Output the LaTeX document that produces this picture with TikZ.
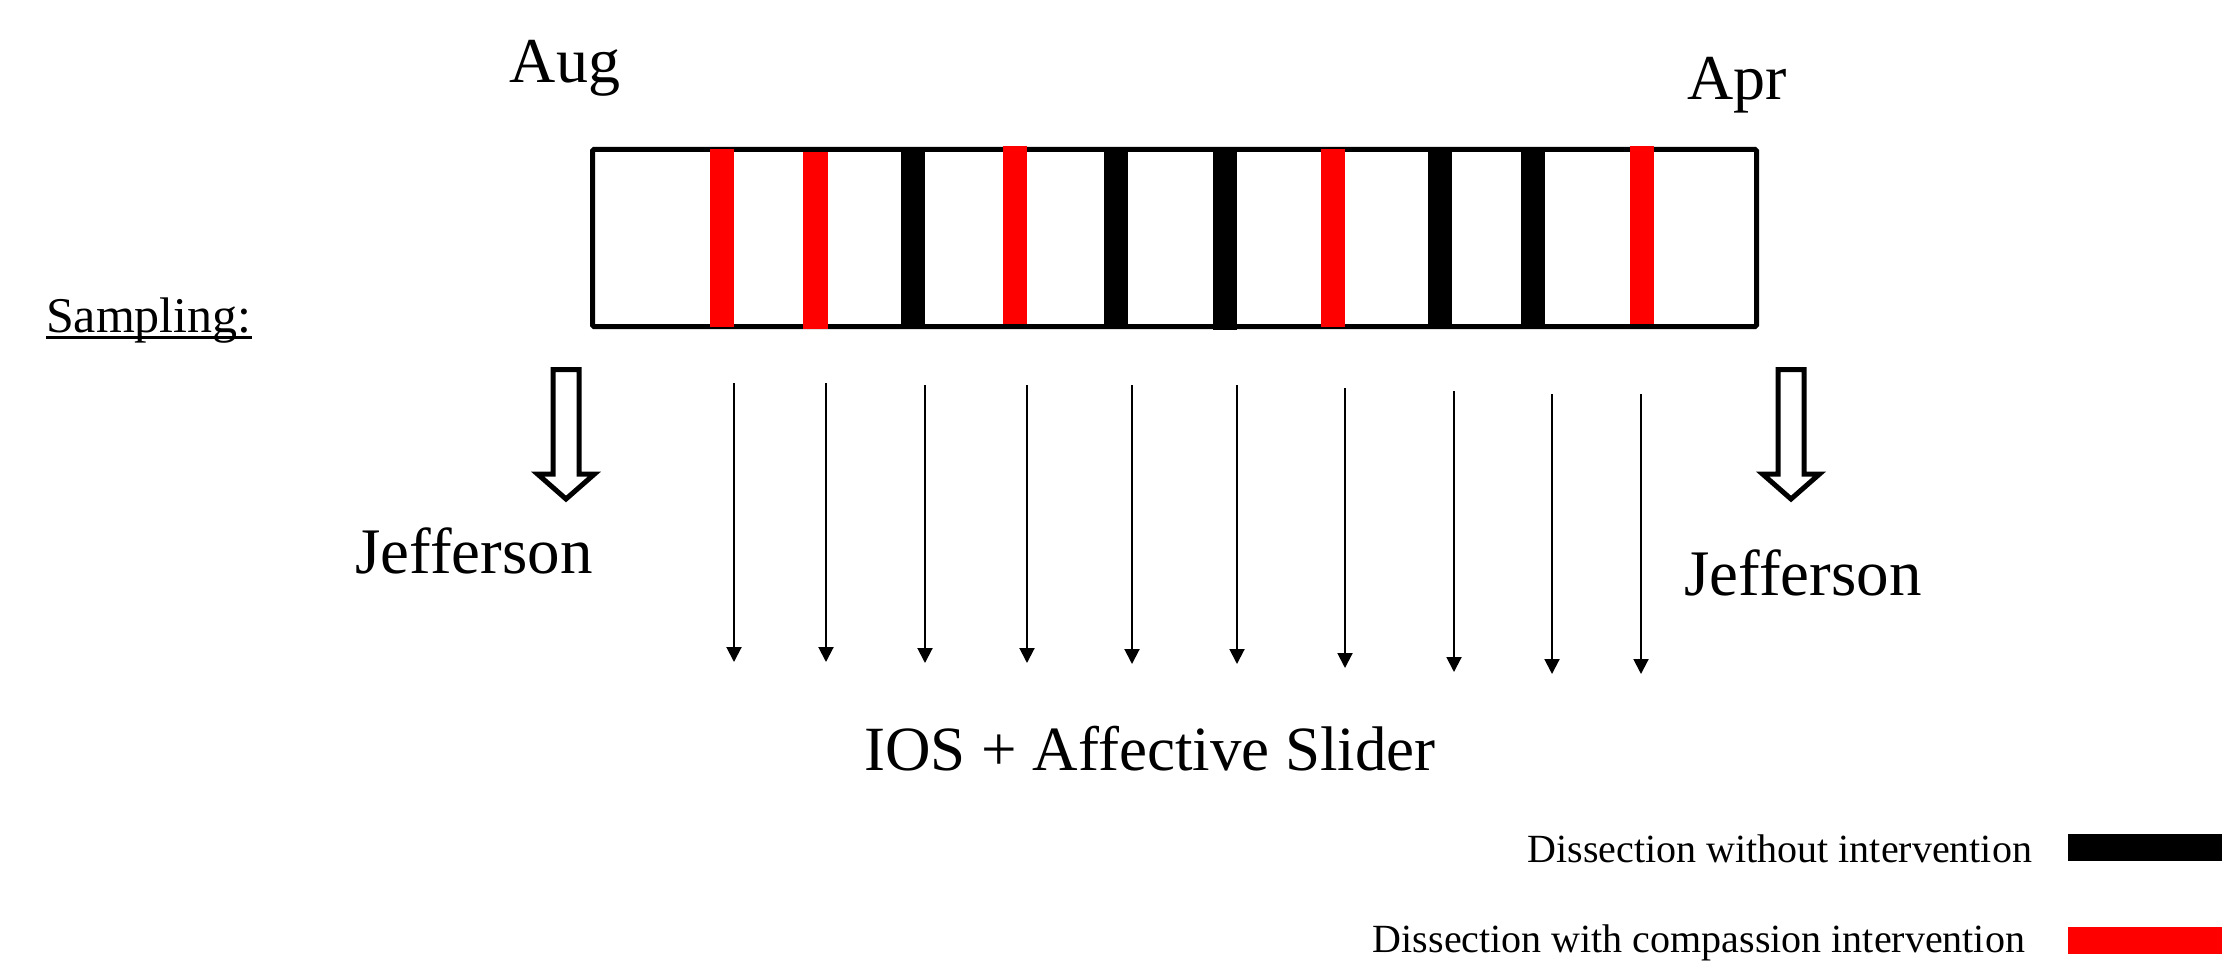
\documentclass[tikz,border=0pt]{standalone}
\usepackage{fontspec}
\setmainfont{Liberation Serif}
\usetikzlibrary{arrows.meta}
\definecolor{markred}{RGB}{255,0,0}
\begin{document}
\begin{tikzpicture}[x=1pt,y=-1pt,
  txt/.style={inner sep=0pt, outer sep=0pt},
  month/.style={txt, anchor=base, font=\fontsize{64}{76}\selectfont},
  site/.style={txt, anchor=base, font=\fontsize{65}{78}\selectfont},
  legendtext/.style={txt, anchor=base east, font=\fontsize{40}{48}\selectfont},
  redbar/.style={fill=markred},
  blackbar/.style={fill=black},
  hollow/.style={draw=black, fill=white, line width=5pt, miter limit=10},
  sample/.style={draw=black, line width=2pt, -{Triangle[width=15pt,length=15pt]}}
]
\useasboundingbox (0,0) rectangle (2222,963);

% timeline box from August to April
\node[draw=black, line width=5pt, rounded corners=1.5pt, inner sep=0pt,
      minimum width=1164pt, minimum height=177pt] (timeline) at (1174.5,238) {};

% dissection sessions
\fill[redbar]   (710,149)  rectangle (734,327);
\fill[redbar]   (803,152)  rectangle (828,329);
\fill[blackbar] (901,149)  rectangle (925,329);
\fill[redbar]   (1003,146) rectangle (1027,324);
\fill[blackbar] (1104,149) rectangle (1128,329);
\fill[blackbar] (1213,149) rectangle (1237,330);
\fill[redbar]   (1321,149) rectangle (1345,327);
\fill[blackbar] (1428,149) rectangle (1452,329);
\fill[blackbar] (1521,149) rectangle (1545,329);
\fill[redbar]   (1630,146) rectangle (1654,324);

% month labels
\node[month] (aug) at (565,83) {Aug};
\node[month] (apr) at (1737,100) {Apr};

% section heading
\node[txt, anchor=base west, font=\fontsize{50}{60}\selectfont] (sampling) at (46,332) {Sampling:};
\draw[line width=3pt] ([yshift=-5pt]sampling.base west) -- ([yshift=-5pt]sampling.base east);

% hollow arrows to the Jefferson questionnaires
\draw[hollow] (553,369.5) -- (579,369.5) -- (579,474) -- (594.5,474) -- (566,499)
  -- (537.5,474) -- (553,474) -- cycle;
\draw[hollow] (1778,369.5) -- (1804,369.5) -- (1804,474) -- (1819.5,474) -- (1791,499)
  -- (1762.5,474) -- (1778,474) -- cycle;

\node[site] (jeff1) at (474,573) {Jefferson};
\node[site] (jeff2) at (1803,595) {Jefferson};

% sampling after each session
\coordinate (s1)  at (734,383);  \coordinate (e1)  at (734,662);
\coordinate (s2)  at (826,383);  \coordinate (e2)  at (826,662);
\coordinate (s3)  at (925,385);  \coordinate (e3)  at (925,663);
\coordinate (s4)  at (1027,385); \coordinate (e4)  at (1027,663);
\coordinate (s5)  at (1132,385); \coordinate (e5)  at (1132,664);
\coordinate (s6)  at (1237,385); \coordinate (e6)  at (1237,664);
\coordinate (s7)  at (1345,388); \coordinate (e7)  at (1345,668);
\coordinate (s8)  at (1454,391); \coordinate (e8)  at (1454,672);
\coordinate (s9)  at (1552,394); \coordinate (e9)  at (1552,674);
\coordinate (s10) at (1641,394); \coordinate (e10) at (1641,674);
\foreach \i in {1,...,10} { \draw[sample] (s\i) -- (e\i); }

\node[txt, anchor=base, font=\fontsize{63}{76}\selectfont] (measures) at (1150,770) {IOS + Affective Slider};

% legend
\node[legendtext] (leg1) at (2032,862) {Dissection without intervention};
\node[legendtext] (leg2) at (2025,952) {Dissection with compassion intervention};
\fill[blackbar] (2068,834) rectangle (2222,861);
\fill[redbar]   (2068,927) rectangle (2222,954);
\end{tikzpicture}
\end{document}
